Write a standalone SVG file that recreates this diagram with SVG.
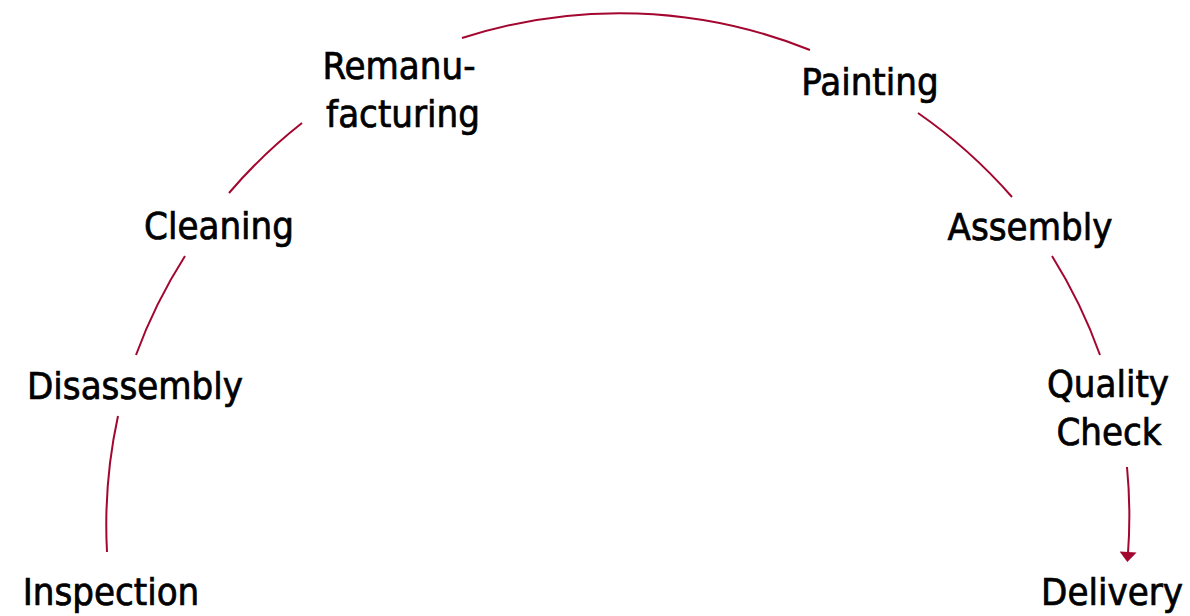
<svg xmlns="http://www.w3.org/2000/svg" width="1190" height="616" viewBox="0 0 1190 616">
<style>
.lbl{font-family:"DejaVu Sans Condensed","DejaVu Sans","Liberation Sans",sans-serif;font-size:38px;fill:#000;stroke:#000;stroke-width:0.7;text-anchor:middle}
.arc{fill:none;stroke:#A3062F;stroke-width:2}
</style>
<defs>
<marker id="ah" viewBox="0 0 10 17" markerWidth="11" markerHeight="17" markerUnits="userSpaceOnUse" refX="1" refY="8.5" orient="auto">
<path d="M0,0 L10,8.5 L0,17 z" fill="#A3062F"/>
</marker>
</defs>
<rect width="1190" height="616" fill="#fff"/>
<g id="connectors">
<path class="arc" d="M107,552 A511,511 0 0 1 118,416"/>
<path class="arc" d="M136,355 A511,511 0 0 1 185,256"/>
<path class="arc" d="M229,193 A511,511 0 0 1 302,123"/>
<path class="arc" d="M462,38 A511,511 0 0 1 810,50"/>
<path class="arc" d="M918,113 A511,511 0 0 1 1012,197"/>
<path class="arc" d="M1052,256 A511,511 0 0 1 1100,355"/>
<path class="arc" d="M1127,467 A511,511 0 0 1 1128,553" marker-end="url(#ah)"/>
</g>
<g id="inspection"><text class="lbl" x="111" y="605">Inspection</text></g>
<g id="disassembly"><text class="lbl" x="135" y="399">Disassembly</text></g>
<g id="cleaning"><text class="lbl" x="219" y="239">Cleaning</text></g>
<g id="remanufacturing"><text class="lbl" x="399" y="79">Remanu-</text><text class="lbl" x="403" y="127">facturing</text></g>
<g id="painting"><text class="lbl" x="870" y="95">Painting</text></g>
<g id="assembly"><text class="lbl" x="1030" y="240">Assembly</text></g>
<g id="quality-check"><text class="lbl" x="1108" y="397">Quality</text><text class="lbl" x="1109" y="445">Check</text></g>
<g id="delivery"><text class="lbl" x="1112" y="605">Delivery</text></g>
</svg>
